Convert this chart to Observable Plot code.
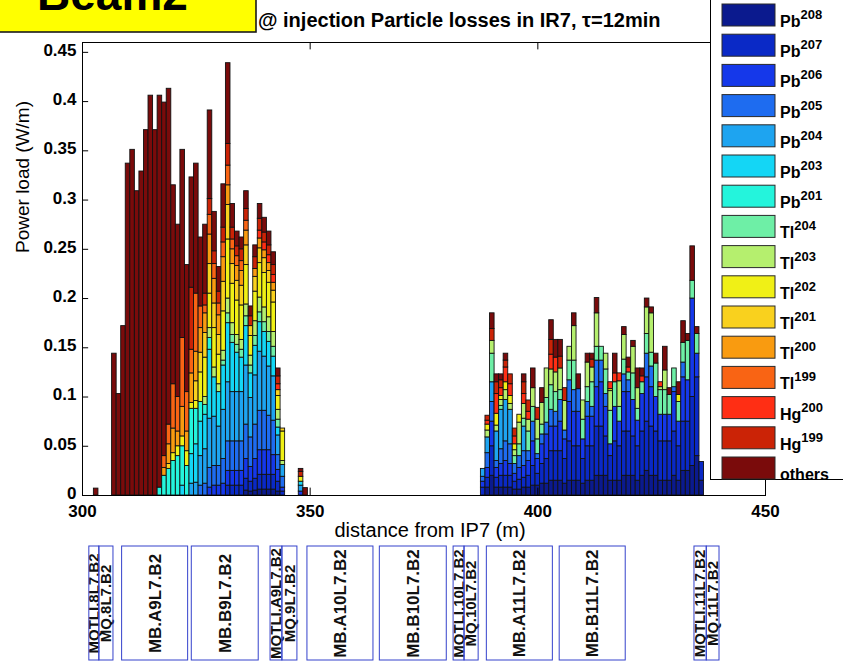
<!DOCTYPE html>
<html>
<head>
<meta charset="utf-8">
<script src="https://cdn.jsdelivr.net/npm/d3@7"></script>
<script src="https://cdn.jsdelivr.net/npm/@observablehq/plot@0.6"></script>
<style>
  html, body { margin: 0; padding: 0; background: #fff; }
  #wrap { position: relative; width: 843px; height: 662px; overflow: hidden; background: #fff;
          font-family: "Liberation Sans", Arial, sans-serif; }
  #wrap > * { position: absolute; }
</style>
</head>
<body>
<div id="wrap"></div>
<script>
// Bin centres (m from IP7); each bin is 1 m wide.
const bins = [303,
  307,308,309,310,311,312,313,314,315,316,
  317,318,319,320,321,322,323,
  324,325,326,327,328,329,330,331,332,333,334,335,336,337,338,339,340,341,342,343,344,
  348,349,
  388,389,390,391,392,393,394,395,396,397,398,399,
  400,401,402,403,404,405,406,407,408,409,410,411,
  412,413,414,415,416,417,418,419,420,421,422,423,
  424,425,426,427,428,429,430,431,432,433,434,435,436];

// Power load per species (W/m), one value per bin, same line grouping as bins.
const pb208 = [0,
  0,0,0,0,0,0,0,0,0,0,
  0,0,0,0,0,0,0,
  0,0,0,0,0,0,0,0,0,0,0,0,.005,.004,.005,.006,.006,.006,.006,.004,0,
  0,0,
  0,.008,.02,.008,.008,.008,.008,.006,.006,.008,.008,.01,
  .01,.012,.012,.015,.015,.015,.012,.015,.015,.015,.012,.015,
  .015,.02,.02,.02,.015,.015,.015,.02,.02,.02,.015,.02,
  .025,.02,.02,.015,.015,.015,.02,.015,.025,.025,.03,.04,.015];
const pb207 = [0,
  0,0,0,0,0,0,0,0,0,0,
  0,0,0,0,0,0,0,
  0,0,0,0,0,0,0,0,.01,.01,.01,.01,.012,.01,.012,.015,.015,.015,.015,.01,.004,
  0,0,
  .008,.01,.03,.01,.012,.012,.012,.008,.01,.01,.012,.02,
  .012,.02,.025,.03,.03,.03,.025,.04,.035,.035,.025,.035,
  .035,.05,.05,.04,.025,.04,.035,.045,.045,.04,.035,.045,
  .05,.05,.045,.04,.04,.04,.045,.035,.05,.05,.07,.08,.019];
const pb206 = [0,
  0,0,0,0,0,0,0,0,0,0,
  0,0,0,0,0,0,0,
  0,0,0,0,.008,.01,.01,.012,.015,.015,.015,.015,.02,.015,.02,.025,.025,.025,.02,.012,.004,
  .004,0,
  .006,.01,.025,.01,.012,.015,.012,.008,.012,.012,.015,.025,
  .015,.02,.025,.025,.025,.03,.02,.04,.035,.035,.02,.03,
  .03,.04,.045,.03,.012,.035,.025,.04,.04,.037,.026,.038,
  .045,.04,.035,.027,.027,.027,.04,.025,.045,.042,.1,.024,0];
const pb205 = [0,
  0,0,0,0,0,0,0,0,0,0,
  0,0,0,0,0,0,0,
  0,0,.01,.012,.02,.02,.02,.025,.03,.03,.03,.03,.035,.03,.035,.04,.04,.035,.035,.015,.011,
  0,0,
  .005,.015,.02,.007,.015,.02,.02,.01,.012,.015,.01,.02,
  .005,.01,.012,.017,.015,.022,.009,.022,.022,.023,0,.015,
  .01,.027,.022,.013,0,0,0,.018,.012,0,0,0,
  .024,.021,0,0,0,0,.005,0,.015,0,0,0,0];
const pb204 = [0,
  0,0,0,0,0,0,0,0,0,0,
  0,0,0,0,0,0,0,
  .012,.013,.03,.035,.05,.05,.04,.05,.06,.05,.05,.05,.06,.04,.05,.06,.055,.05,.045,.02,.012,
  .006,0,
  .008,.016,.02,.03,.04,.042,.035,0,0,.025,0,0,
  0,0,0,0,0,0,0,0,0,0,0,0,
  0,0,0,0,0,0,0,0,0,0,0,0,
  0,0,0,0,0,0,0,0,0,0,0,0,0];
const pb203 = [0,
  0,0,0,0,0,0,0,0,0,0,
  0,0,0,0,0,.01,0,
  .03,.039,.035,.035,.07,.04,.035,.045,.06,.05,.04,.035,.04,.025,.03,.03,.025,.025,.02,.008,0,
  .004,0,
  0,0,0,0,0,0,0,0,0,0,0,0,
  0,0,0,0,0,0,0,0,0,0,0,0,
  0,0,0,0,0,0,0,0,0,0,0,0,
  0,0,0,0,0,0,0,0,0,0,0,0,0];
const pb201 = [0,
  0,0,0,0,0,0,0,0,0,0,
  .008,.02,.027,.035,.04,.04,.03,
  .046,.036,.02,.01,.012,0,0,0,0,0,0,0,0,0,0,0,0,0,0,0,0,
  0,0,
  0,0,0,0,0,0,0,0,0,0,0,0,
  0,0,0,0,0,0,0,0,0,0,0,0,
  0,0,0,0,0,0,0,0,0,0,0,0,
  0,0,0,0,0,0,0,0,0,0,0,0,0];
const tl204 = [0,
  0,0,0,0,0,0,0,0,0,0,
  0,0,0,0,0,0,0,
  0,0,0,0,0,0,0,.005,.01,.008,.008,.008,.01,.008,.01,.01,.01,.01,.01,.008,0,
  0,0,
  0,0,.029,0,.004,0,0,.008,.012,.008,.02,.015,
  .015,.01,.025,.025,.02,.01,0,.02,.03,0,.02,.015,
  .025,.014,.014,.025,.034,.025,.015,.015,.008,.027,.012,.012,
  .02,.014,.034,.025,.025,.02,.019,.02,.02,.04,.018,.02,0];
const tl203 = [0,
  0,0,0,0,0,0,0,0,0,0,
  0,0,0,0,0,0,0,
  0,0,0,.008,.01,.01,.008,.01,.015,.012,.01,.01,.012,.01,.015,.015,.015,.015,.015,.01,.004,
  0,0,
  0,.007,.013,.006,.006,.01,.006,.006,.022,.015,.012,.019,
  .02,.022,.03,.016,.02,.022,.03,.014,.035,0,.0195,.025,
  .015,.034,0,.016,.02,0,.026,.025,0,.027,.021,0,
  .027,.04,0,.003,.02,0,0,0,0,0,0,0,0];
const tl202 = [0,
  0,0,0,0,0,0,0,0,0,0,
  0,0,0,.008,.01,.01,.015,
  .006,.008,.03,.04,.035,.04,.03,.04,.06,.04,.035,.035,.04,.02,.03,.035,.035,.035,.03,.014,.03,
  .005,0,
  0,.006,0,.012,.004,.008,.008,.006,.008,0,0,0,
  0,0,0,0,0,0,0,0,0,0,0,0,
  0,0,0,0,.002,0,0,0,0,0,0,0,
  0,0,0,0,0,0,0,.007,0,0,0,0,0];
const tl201 = [0,
  0,0,0,0,0,0,0,0,0,0,
  0,0,.005,0,0,0,0,
  0,.02,.02,.025,.03,.025,.02,.03,.035,.02,.02,.02,.02,.01,.015,.015,.015,.012,.012,.006,.003,
  0,0,
  0,0,0,0,0,0,0,0,0,0,0,0,
  0,0,0,0,0,0,0,0,0,0,0,0,
  0,0,0,0,0,0,0,0,0,0,0,0,
  0,0,0,0,0,0,0,0,0,0,0,0,0];
const tl200 = [0,
  0,0,0,0,0,0,0,0,0,0,
  0,.008,.02,.025,.015,.03,.02,
  .03,.03,.025,.02,.03,.025,.02,.025,.02,.015,.015,.015,.015,0,.008,.01,.008,.008,.008,0,0,
  0,0,
  0,0,0,0,0,0,0,0,0,0,0,0,
  0,0,0,0,0,0,0,0,0,0,0,0,
  0,0,0,0,0,0,0,0,0,0,0,0,
  0,0,0,0,0,0,0,0,0,0,0,0,0];
const tl199 = [0,
  0,0,0,0,0,0,0,0,0,0,
  0,.012,.02,.045,.035,.07,.04,
  .024,.059,.022,.008,.02,.015,.012,.015,.02,.01,.01,.01,.01,0,0,0,0,0,0,0,0,
  0,0,
  0,0,0,0,0,0,0,0,0,0,0,0,
  0,0,0,0,0,0,0,0,0,0,0,0,
  0,0,0,0,0,0,0,0,0,0,0,0,
  0,0,0,0,0,0,0,0,0,0,0,0,0];
const hg200 = [0,
  0,0,0,0,0,0,0,0,0,0,
  0,0,0,0,0,0,0,
  0,0,0,0,0,0,0,0,0,0,0,0,0,0,0,.008,.008,.008,.008,.006,0,
  0,0,
  0,.004,0,.02,.008,.015,.012,.008,0,.01,.008,0,
  0,0,0,.015,.015,0,0,0,0,0,0,0,
  0,0,0,0,.007,.009,.008,0,.005,0,0,.006,
  0,0,0,.005,0,0,0,0,0,0,0,0,0];
const hg199 = [0,
  0,0,0,0,0,0,0,0,0,0,
  0,0,0,0,0,0,0,
  .063,0,0,.012,.016,.013,.012,.015,.022,.012,.01,.012,.012,.01,.012,.012,.01,.01,.01,.008,0,
  .005,0,
  0,.005,.012,.012,.008,.007,.01,.008,0,.012,.0115,0,
  .012,0,0,.015,0,.012,.013,0,0,0,0,0,
  .008,0,0,0,0,0,0,0,0,0,0,0,
  0,0,0,0,0,0,0,0,0,0,0,0,0];
const others = [.007,
  .144,.103,.172,.337,.351,.309,.329,.371,.406,.371,
  .398,.359,.341,.202,.175,.191,.129,
  .112,.132,.07,.07,.09,.04,.025,.044,.082,.024,.015,.012,.018,.01,.012,.015,.015,.014,.013,.008,0,
  .003,.0075,
  0,0,.016,.008,.006,.007,0,0,0,.008,0,.02,
  0,.015,0,.02,.018,.017,0,0,.013,.015,0,.009,
  .006,.0155,0,0,0,.02,0,.008,.01,.006,.02,.008,
  .009,.006,.01,0,.024,.007,0,.013,.022,.007,.035,.007,0];

// Species in stacking order (bottom first) and legend order (top first).
const species = ["Pb208","Pb207","Pb206","Pb205","Pb204","Pb203","Pb201",
  "Tl204","Tl203","Tl202","Tl201","Tl200","Tl199","Hg200","Hg199","others"];
const speciesElement = ["Pb","Pb","Pb","Pb","Pb","Pb","Pb","Tl","Tl","Tl","Tl","Tl","Tl","Hg","Hg","others"];
const speciesMass = ["208","207","206","205","204","203","201","204","203","202","201","200","199","200","199",""];
const speciesColors = ["#0b1a8e","#0a29c6","#1538ea","#1e6cf0","#1ea4f0","#14d6f5","#24f4dc",
  "#6eefa6","#b5ef6e","#f0f016","#f9d11e","#f99b10","#f96414","#ff2e14","#cb2306","#7a0b0b"];
const seriesValues = [pb208,pb207,pb206,pb205,pb204,pb203,pb201,tl204,tl203,tl202,tl201,tl200,tl199,hg200,hg199,others];

// Axis ticks
const xTicks = [300, 350, 400, 450];
const yTicks = [0, 0.05, 0.1, 0.15, 0.2, 0.25, 0.3, 0.35, 0.4, 0.45];
const yLabel = "Power load (W/m)";
const xLabel = "distance from IP7 (m)";
const titleText = "@ injection Particle losses in IR7, \u03c4=12min";
const beamText = "Beam2";

// Magnet layout below the chart (m from IP7)
const magnetNames = ["MQTLI.8L7.B2","MQ.8L7.B2","MB.A9L7.B2","MB.B9L7.B2","MQTLI.A9L7.B2","MQ.9L7.B2",
  "MB.A10L7.B2","MB.B10L7.B2","MQTLI.10L7.B2","MQ.10L7.B2","MB.A11L7.B2","MB.B11L7.B2","MQTLI.11L7.B2","MQ.11L7.B2"];
const magnetStart = [301.5, 303.7, 308.7, 324.0, 341.3, 343.9, 349.4, 365.3, 381.5, 383.9, 388.8, 404.8, 434.4, 437.1];
const magnetEnd   = [303.7, 306.8, 323.2, 338.7, 343.9, 347.2, 363.9, 380.0, 383.9, 387.0, 403.3, 419.3, 437.1, 439.9];

seriesValues.forEach((s, k) => {
  if (s.length !== bins.length) throw new Error(species[k] + " has " + s.length + " values, expected " + bins.length);
});

// Stack the species within each bin
const rows = [];
bins.forEach((m, i) => {
  let base = 0;
  seriesValues.forEach((s, k) => {
    const v = s[i];
    if (v > 0) {
      rows.push({x1: m - 0.5, x2: m + 0.5, y1: base, y2: base + v, species: species[k]});
      base += v;
    }
  });
});

const fontFamily = "'Liberation Sans', Arial, sans-serif";
const wrap = document.getElementById("wrap");

const chart = Plot.plot({
  width: 843, height: 545,
  marginTop: 42, marginRight: 78, marginBottom: 50, marginLeft: 82,
  style: {fontFamily, background: "transparent", color: "#000", overflow: "visible"},
  x: {domain: [300, 450]},
  y: {domain: [0, 0.46]},
  color: {domain: species, range: speciesColors},
  marks: [
    Plot.rect(rows, {x1: "x1", x2: "x2", y1: "y1", y2: "y2", fill: "species", stroke: "#111", strokeWidth: 0.9}),
    Plot.frame({stroke: "#000", strokeWidth: 1}),
    Plot.ruleX(xTicks, {y1: 0, y2: 0.0075, stroke: "#000"}),
    Plot.ruleX(xTicks, {y1: 0.46, y2: 0.4525, stroke: "#000"}),
    Plot.ruleY(yTicks, {x1: 300, x2: 301.35, stroke: "#000"}),
    Plot.ruleY(yTicks, {x1: 450, x2: 448.65, stroke: "#000"}),
    Plot.axisX({ticks: xTicks, tickSize: 0, tickPadding: 9, fontSize: 17, fontWeight: "bold", label: null, tickFormat: d => String(d)}),
    Plot.axisY({ticks: yTicks, tickSize: 0, tickPadding: 6, dy: -2, fontSize: 17, fontWeight: "bold", label: null, tickFormat: d => String(+d.toFixed(2))}),
    Plot.text([yLabel], {frameAnchor: "left", dx: -60, dy: -16, rotate: -90, fontSize: 19, text: d => d}),
    Plot.text([xLabel], {frameAnchor: "bottom", dx: 6, dy: 41, fontSize: 20, text: d => d})
  ]
});
chart.style.left = "0px";
chart.style.top = "0px";
wrap.appendChild(chart);

// Magnet boxes sharing the same x scale
const magnets = magnetNames.map((name, i) => ({name, s: magnetStart[i], e: magnetEnd[i]}));
const lattice = Plot.plot({
  width: 843, height: 117,
  marginTop: 1, marginRight: 78, marginBottom: 2, marginLeft: 82,
  style: {fontFamily, background: "transparent", color: "#000", overflow: "visible"},
  x: {domain: [300, 450], axis: null},
  y: {domain: [0, 1], axis: null},
  marks: [
    Plot.text(magnets, {x: d => (d.s + d.e) / 2, y: 0.5, text: "name", rotate: -90,
      fontSize: d => d.name.startsWith("MB") ? 17 : 15, fontWeight: "bold", fill: "#111"}),
    Plot.rect(magnets, {x1: "s", x2: "e", y1: 0, y2: 1, fill: "none", stroke: "#3442cc", strokeWidth: 1})
  ]
});
lattice.style.left = "0px";
lattice.style.top = "545px";
wrap.appendChild(lattice);

// Beam tag and title
const head = d3.create("svg").attr("width", 720).attr("height", 40)
  .style("left", "0px").style("top", "0px").style("font-family", fontFamily);
head.append("rect").attr("x", -3).attr("y", -3).attr("width", 259).attr("height", 35)
  .attr("fill", "#ffff00").attr("stroke", "#1a1a1a").attr("stroke-width", 1.6);
head.append("text").attr("x", 37).attr("y", 10).attr("font-size", 46).attr("font-weight", "bold").text(beamText);
head.append("text").attr("x", 258).attr("y", 27).attr("font-size", 20).attr("font-weight", "bold").text(titleText);
wrap.appendChild(head.node());

// Species legend
const leg = d3.create("svg").attr("width", 133).attr("height", 482)
  .style("left", "710px").style("top", "0px").style("font-family", fontFamily);
leg.append("rect").attr("x", 0.5).attr("y", -2).attr("width", 140).attr("height", 481.5)
  .attr("fill", "#fff").attr("stroke", "#000");
species.forEach((s, i) => {
  const top = 4 + 30.2 * i;
  leg.append("rect").attr("x", 12).attr("y", top).attr("width", 53).attr("height", 22)
    .attr("fill", speciesColors[i]).attr("stroke", "#2a2a2a").attr("stroke-width", 1);
  const t = leg.append("text").attr("x", 70).attr("y", top + 23).attr("font-size", 16).attr("font-weight", "bold");
  t.append("tspan").text(speciesElement[i]);
  if (speciesMass[i]) t.append("tspan").attr("dy", -8).attr("font-size", 13).text(speciesMass[i]);
});
wrap.appendChild(leg.node());
</script>
</body>
</html>
